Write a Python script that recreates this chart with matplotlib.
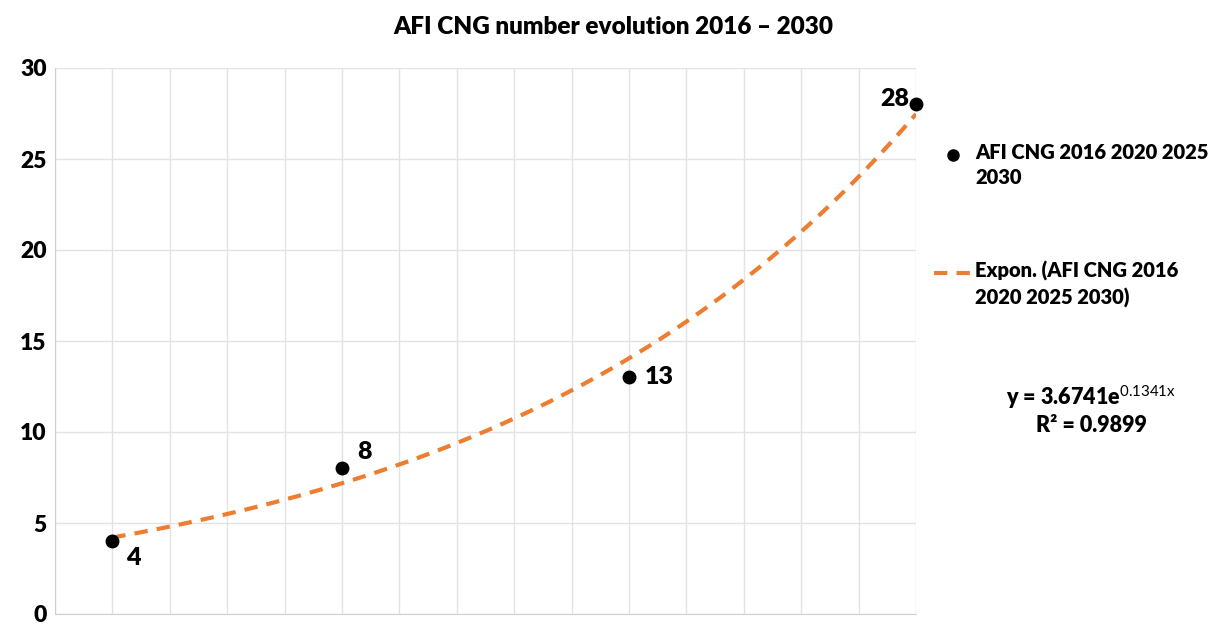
import numpy as np
import matplotlib
matplotlib.use("Agg")
import matplotlib.pyplot as plt

plt.rcParams['font.family'] = ['Lato', 'DejaVu Sans']
plt.rcParams['mathtext.fontset'] = 'custom'
plt.rcParams['mathtext.rm'] = 'Lato'
plt.rcParams['mathtext.bf'] = 'Lato:bold'

# data
x_vals = [1, 5, 10, 15]          # 2016, 2020, 2025, 2030
y_vals = [4, 8, 13, 28]
series_label = "AFI CNG 2016 2020 2025\n2030"
trend_label = "Expon. (AFI CNG 2016\n2020 2025 2030)"
title = "AFI CNG number evolution 2016 \u2013 2030"

# exponential fit
b, lna = np.polyfit(x_vals, np.log(y_vals), 1)
a = np.exp(lna)
pred = a * np.exp(b * np.array(x_vals))
ss_res = np.sum((np.log(y_vals) - np.log(pred)) ** 2)
ss_tot = np.sum((np.log(y_vals) - np.mean(np.log(y_vals))) ** 2)
r2 = 1 - ss_res / ss_tot

fig = plt.figure(figsize=(12.31, 6.26), dpi=100)
ax = fig.add_axes([55/1231, 12/626, (916-55)/1231, (614-68)/626])

orange = '#ED7D31'
xs = np.linspace(1, 15, 200)
ax.plot(xs, a * np.exp(b * xs), color=orange, lw=3, dashes=(3.2, 2.2), zorder=2)
ax.plot(x_vals, y_vals, 'o', color='black', ms=9, zorder=3, clip_on=False)

ax.set_xlim(0, 15)
ax.set_ylim(0, 30)
ax.set_xticks(np.arange(0, 16))
ax.set_yticks(np.arange(0, 31, 5))
ax.set_xticklabels([])
ax.tick_params(length=0)
ax.tick_params(axis='y', labelsize=16.5, pad=6)
for t in ax.get_yticklabels():
    t.set_fontweight('heavy')
ax.grid(True, color='#e3e3e3', lw=1)
for s in ['top', 'right']:
    ax.spines[s].set_visible(False)
for s in ['left', 'bottom']:
    ax.spines[s].set_color('#d0d0d0')

# data labels
offsets = [(10, -12, 'left', 'center'), (11, 12, 'left', 'center'),
           (11, 0, 'left', 'center'), (-5, 4, 'right', 'center')]
for xv, yv, (dx, dy, ha, va) in zip(x_vals, y_vals, offsets):
    ax.annotate(str(yv), (xv, yv), xytext=(dx, dy), textcoords='offset points',
                ha=ha, va=va, fontsize=18, fontweight='heavy')

# legend (manual)
fig.add_artist(plt.Line2D([953/1231], [1 - 155/626], marker='o', color='black',
                          ms=8, ls='none', transform=fig.transFigure))
fig.text(975/1231, 1 - 143/626, series_label, fontsize=14.5, fontweight='heavy',
         va='top', ha='left', linespacing=1.4)
fig.add_artist(plt.Line2D([934/1231, 972/1231], [1 - 273/626, 1 - 273/626],
                          color=orange, lw=3, dashes=(3.2, 2.2),
                          transform=fig.transFigure))
fig.text(975/1231, 1 - 261/626, trend_label, fontsize=14.5, fontweight='heavy',
         va='top', ha='left', linespacing=1.4)

# equation
fig.text(1091/1231, 1 - 397/626,
         "y = %.4fe$^{\\mathrm{%.4fx}}$" % (a, b),
         fontsize=15.5, fontweight='heavy', ha='center', va='center')
fig.text(1091/1231, 1 - 425/626, "R\u00b2 = %.4f" % r2,
         fontsize=15.5, fontweight='heavy', ha='center', va='center')

fig.text(613/1231, 1 - 27/626, title, fontsize=17.5, fontweight='heavy',
         ha='center', va='center')

fig.savefig('out.png', dpi=100, facecolor='white')
